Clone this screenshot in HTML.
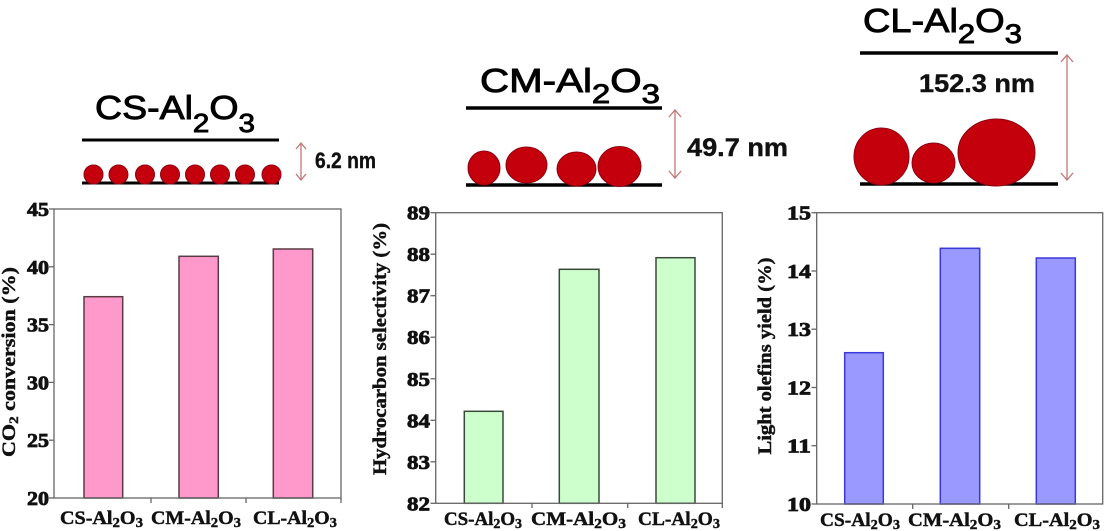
<!DOCTYPE html>
<html><head><meta charset="utf-8"><style>
html,body{margin:0;padding:0;background:#fff;}
svg{display:block;}
.h{font-family:"Liberation Sans",sans-serif;font-size:33px;fill:#000;stroke:#000;stroke-width:0.9px;}
.nm{font-family:"Liberation Sans",sans-serif;font-weight:bold;fill:#111;stroke:#111;stroke-width:0.4px;}
.t{font-family:"Liberation Serif",serif;font-weight:bold;fill:#111;stroke:#111;stroke-width:0.45px;}
.k{font-family:"Liberation Serif",serif;font-weight:bold;fill:#111;stroke:#111;stroke-width:0.8px;}
</style></head><body>
<svg width="1106" height="531" viewBox="0 0 1106 531" xmlns="http://www.w3.org/2000/svg">
<!-- ===== Schematic left ===== -->
<text class="h" x="95" y="119" textLength="160" lengthAdjust="spacingAndGlyphs">CS-Al<tspan font-size="26" dy="13">2</tspan><tspan dy="-13">O</tspan><tspan font-size="26" dy="13">3</tspan></text>
<line x1="82" y1="140" x2="279" y2="140" stroke="#000" stroke-width="3"/>
<line x1="82" y1="183" x2="279" y2="183" stroke="#000" stroke-width="3"/>
<g fill="#c4000c" stroke="#8e0012" stroke-width="1">
<circle cx="93.5" cy="174.5" r="9.5"/><circle cx="118.5" cy="174.5" r="9.5"/><circle cx="145" cy="174.5" r="9.5"/><circle cx="170" cy="174.5" r="9.5"/><circle cx="195" cy="174.5" r="9.5"/><circle cx="220" cy="174.5" r="9.5"/><circle cx="245" cy="174.5" r="9.5"/><circle cx="271.5" cy="174.5" r="9.5"/>
</g>
<g stroke="#c27575" stroke-width="1.3" fill="none">
<line x1="301" y1="143" x2="301" y2="180"/><polyline points="296,149 301,143 306,149"/><polyline points="296,174 301,180 306,174"/>
</g>
<text class="nm" x="315" y="168" font-size="22" textLength="61" lengthAdjust="spacingAndGlyphs">6.2 nm</text>

<!-- ===== Schematic middle ===== -->
<text class="h" x="480" y="92" font-size="35" textLength="180" lengthAdjust="spacingAndGlyphs">CM-Al<tspan font-size="27" dy="11">2</tspan><tspan dy="-11">O</tspan><tspan font-size="27" dy="11">3</tspan></text>
<line x1="466" y1="108" x2="662" y2="108" stroke="#000" stroke-width="3.5"/>
<line x1="466" y1="185" x2="662" y2="185" stroke="#000" stroke-width="3.5"/>
<g fill="#c4000c" stroke="#8e0012" stroke-width="1">
<ellipse cx="484" cy="168" rx="16" ry="17"/><ellipse cx="526.5" cy="165" rx="20.5" ry="18"/><ellipse cx="576.5" cy="169" rx="19.5" ry="17"/><ellipse cx="619.5" cy="166.5" rx="21.5" ry="20"/>
</g>
<g stroke="#c27575" stroke-width="1.3" fill="none">
<line x1="675" y1="110" x2="675" y2="178"/><polyline points="669,117 675,110 681,117"/><polyline points="669,171 675,178 681,171"/>
</g>
<text class="nm" x="687" y="156" font-size="25" textLength="101" lengthAdjust="spacingAndGlyphs">49.7 nm</text>

<!-- ===== Schematic right ===== -->
<text class="h" x="863" y="32" font-size="35" textLength="159" lengthAdjust="spacingAndGlyphs">CL-Al<tspan font-size="27" dy="11">2</tspan><tspan dy="-11">O</tspan><tspan font-size="27" dy="11">3</tspan></text>
<line x1="860" y1="53" x2="1058" y2="53" stroke="#000" stroke-width="3.5"/>
<line x1="860" y1="184" x2="1058" y2="184" stroke="#000" stroke-width="3.5"/>
<g fill="#c4000c" stroke="#8e0012" stroke-width="1">
<ellipse cx="881.5" cy="156.5" rx="27.5" ry="28.5"/><ellipse cx="933.5" cy="163" rx="21.5" ry="20"/><ellipse cx="996.5" cy="152.5" rx="38.5" ry="33.5"/>
</g>
<g stroke="#c27575" stroke-width="1.3" fill="none">
<line x1="1067" y1="55" x2="1067" y2="180"/><polyline points="1061,62 1067,55 1073,62"/><polyline points="1061,173 1067,180 1073,173"/>
</g>
<text class="nm" x="919" y="92" font-size="25" textLength="116" lengthAdjust="spacingAndGlyphs">152.3 nm</text>

<!-- ===== Chart 1 ===== -->
<g stroke="#5a3a44" stroke-width="1.5" fill="#ff99cc">
<rect x="84" y="296.7" width="38.7" height="201.3"/>
<rect x="179" y="256.3" width="39.3" height="241.7"/>
<rect x="273.3" y="249" width="39.4" height="249"/>
</g>
<g stroke="#666" stroke-width="1.3" fill="none">
<rect x="54" y="209" width="287" height="289"/>
<line x1="49" y1="209" x2="54" y2="209"/><line x1="49" y1="266.8" x2="54" y2="266.8"/><line x1="49" y1="324.6" x2="54" y2="324.6"/><line x1="49" y1="382.4" x2="54" y2="382.4"/><line x1="49" y1="440.2" x2="54" y2="440.2"/><line x1="49" y1="498" x2="54" y2="498"/>
<line x1="151" y1="498" x2="151" y2="503"/><line x1="246" y1="498" x2="246" y2="503"/><line x1="341" y1="498" x2="341" y2="503"/>
</g>
<g class="k" font-size="20" text-anchor="end">
<text x="49" y="216" textLength="22" lengthAdjust="spacingAndGlyphs">45</text>
<text x="49" y="273.8" textLength="22" lengthAdjust="spacingAndGlyphs">40</text>
<text x="49" y="331.6" textLength="22" lengthAdjust="spacingAndGlyphs">35</text>
<text x="49" y="389.4" textLength="22" lengthAdjust="spacingAndGlyphs">30</text>
<text x="49" y="447.2" textLength="22" lengthAdjust="spacingAndGlyphs">25</text>
<text x="49" y="505" textLength="22" lengthAdjust="spacingAndGlyphs">20</text>
</g>
<g class="t" font-size="19">
<text x="60" y="524" textLength="83" lengthAdjust="spacingAndGlyphs">CS-Al<tspan font-size="14" dy="3">2</tspan><tspan dy="-3">O</tspan><tspan font-size="14" dy="3">3</tspan></text>
<text x="151" y="524" textLength="90" lengthAdjust="spacingAndGlyphs">CM-Al<tspan font-size="14" dy="3">2</tspan><tspan dy="-3">O</tspan><tspan font-size="14" dy="3">3</tspan></text>
<text x="253" y="524" textLength="84" lengthAdjust="spacingAndGlyphs">CL-Al<tspan font-size="14" dy="3">2</tspan><tspan dy="-3">O</tspan><tspan font-size="14" dy="3">3</tspan></text>
</g>
<text class="t" font-size="19" text-anchor="middle" transform="translate(15,362) rotate(-90)" textLength="190" lengthAdjust="spacingAndGlyphs">CO<tspan font-size="13" dy="3">2</tspan><tspan dy="-3"> conversion (%)</tspan></text>

<!-- ===== Chart 2 ===== -->
<g stroke="#3a4a3a" stroke-width="1.5" fill="#ccffcc">
<rect x="464.3" y="411.3" width="38.7" height="92"/>
<rect x="559.3" y="269.3" width="39.7" height="234"/>
<rect x="656" y="257.7" width="39" height="245.6"/>
</g>
<g stroke="#666" stroke-width="1.3" fill="none">
<rect x="435.7" y="212.7" width="286.6" height="290.6"/>
<line x1="430.5" y1="212.7" x2="435.7" y2="212.7"/><line x1="430.5" y1="254.2" x2="435.7" y2="254.2"/><line x1="430.5" y1="295.7" x2="435.7" y2="295.7"/><line x1="430.5" y1="337.2" x2="435.7" y2="337.2"/><line x1="430.5" y1="378.8" x2="435.7" y2="378.8"/><line x1="430.5" y1="420.3" x2="435.7" y2="420.3"/><line x1="430.5" y1="461.8" x2="435.7" y2="461.8"/><line x1="430.5" y1="503.3" x2="435.7" y2="503.3"/>
<line x1="532" y1="503.3" x2="532" y2="508"/><line x1="627.7" y1="503.3" x2="627.7" y2="508"/><line x1="722.3" y1="503.3" x2="722.3" y2="508"/>
</g>
<g class="k" font-size="20" text-anchor="end">
<text x="430" y="219.7" textLength="23" lengthAdjust="spacingAndGlyphs">89</text>
<text x="430" y="261.2" textLength="23" lengthAdjust="spacingAndGlyphs">88</text>
<text x="430" y="302.7" textLength="23" lengthAdjust="spacingAndGlyphs">87</text>
<text x="430" y="344.2" textLength="23" lengthAdjust="spacingAndGlyphs">86</text>
<text x="430" y="385.8" textLength="23" lengthAdjust="spacingAndGlyphs">85</text>
<text x="430" y="427.3" textLength="23" lengthAdjust="spacingAndGlyphs">84</text>
<text x="430" y="468.8" textLength="23" lengthAdjust="spacingAndGlyphs">83</text>
<text x="430" y="510.3" textLength="23" lengthAdjust="spacingAndGlyphs">82</text>
</g>
<g class="t" font-size="19">
<text x="444" y="525" textLength="78" lengthAdjust="spacingAndGlyphs">CS-Al<tspan font-size="14" dy="3">2</tspan><tspan dy="-3">O</tspan><tspan font-size="14" dy="3">3</tspan></text>
<text x="531" y="525" textLength="95" lengthAdjust="spacingAndGlyphs">CM-Al<tspan font-size="14" dy="3">2</tspan><tspan dy="-3">O</tspan><tspan font-size="14" dy="3">3</tspan></text>
<text x="638" y="525" textLength="82" lengthAdjust="spacingAndGlyphs">CL-Al<tspan font-size="14" dy="3">2</tspan><tspan dy="-3">O</tspan><tspan font-size="14" dy="3">3</tspan></text>
</g>
<text class="t" font-size="19" text-anchor="middle" transform="translate(386,349) rotate(-90)" textLength="252" lengthAdjust="spacingAndGlyphs">Hydrocarbon selectivity (%)</text>

<!-- ===== Chart 3 ===== -->
<g stroke="#3a3ad8" stroke-width="1.5" fill="#9999ff">
<rect x="844.7" y="352.7" width="38.6" height="151.3"/>
<rect x="940.3" y="248.3" width="39.4" height="255.7"/>
<rect x="1036.3" y="258" width="39" height="246"/>
</g>
<g stroke="#666" stroke-width="1.3" fill="none">
<rect x="816.7" y="212.7" width="286" height="291.3"/>
<line x1="811.5" y1="212.7" x2="816.7" y2="212.7"/><line x1="811.5" y1="271" x2="816.7" y2="271"/><line x1="811.5" y1="329.2" x2="816.7" y2="329.2"/><line x1="811.5" y1="387.5" x2="816.7" y2="387.5"/><line x1="811.5" y1="445.7" x2="816.7" y2="445.7"/><line x1="811.5" y1="504" x2="816.7" y2="504"/>
<line x1="912.7" y1="504" x2="912.7" y2="509"/><line x1="1008.7" y1="504" x2="1008.7" y2="509"/>
</g>
<g class="k" font-size="20" text-anchor="end">
<text x="811" y="219.7" textLength="24" lengthAdjust="spacingAndGlyphs">15</text>
<text x="811" y="278" textLength="24" lengthAdjust="spacingAndGlyphs">14</text>
<text x="811" y="336.2" textLength="24" lengthAdjust="spacingAndGlyphs">13</text>
<text x="811" y="394.5" textLength="24" lengthAdjust="spacingAndGlyphs">12</text>
<text x="811" y="452.7" textLength="24" lengthAdjust="spacingAndGlyphs">11</text>
<text x="811" y="511" textLength="24" lengthAdjust="spacingAndGlyphs">10</text>
</g>
<g class="t" font-size="19">
<text x="820" y="526" textLength="80" lengthAdjust="spacingAndGlyphs">CS-Al<tspan font-size="14" dy="3">2</tspan><tspan dy="-3">O</tspan><tspan font-size="14" dy="3">3</tspan></text>
<text x="908" y="526" textLength="93" lengthAdjust="spacingAndGlyphs">CM-Al<tspan font-size="14" dy="3">2</tspan><tspan dy="-3">O</tspan><tspan font-size="14" dy="3">3</tspan></text>
<text x="1014" y="526" textLength="86" lengthAdjust="spacingAndGlyphs">CL-Al<tspan font-size="14" dy="3">2</tspan><tspan dy="-3">O</tspan><tspan font-size="14" dy="3">3</tspan></text>
</g>
<text class="t" font-size="19" text-anchor="middle" transform="translate(771,356) rotate(-90)" textLength="197" lengthAdjust="spacingAndGlyphs">Light olefins yield (%)</text>
</svg>
</body></html>
